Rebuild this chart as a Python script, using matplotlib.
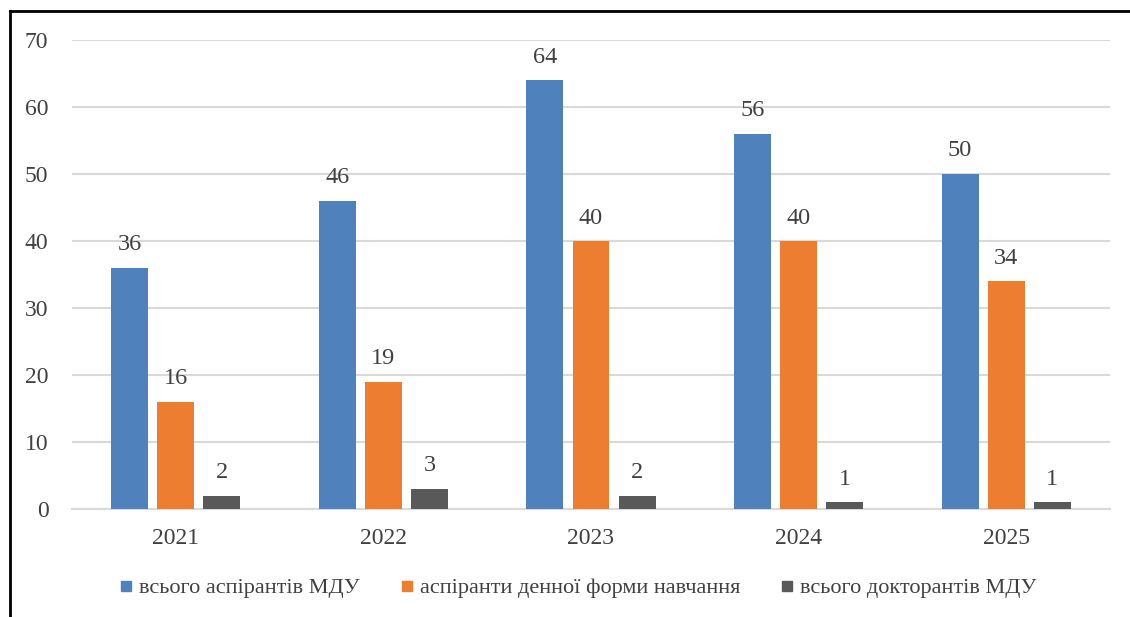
import numpy as np
import matplotlib.pyplot as plt
from matplotlib.lines import Line2D

# =========================
# DATA
# =========================
years = ["2021", "2022", "2023", "2024", "2025"]
all_phd = [36, 46, 64, 56, 50]
fulltime_phd = [16, 19, 40, 40, 34]
all_doct = [2, 3, 2, 1, 1]
series_names = [
    "всього аспірантів МДУ",
    "аспіранти денної форми навчання",
    "всього докторантів МДУ",
]
colors = ["#4F81BD", "#ED7D31", "#595959"]

plt.rcParams["font.family"] = ["Liberation Serif", "DejaVu Serif"]
TEXT = "#404040"

fig = plt.figure(figsize=(11.3, 6.17), dpi=100)
ax = fig.add_axes([72 / 1130, 1 - 509 / 617, 1038 / 1130, 469 / 617])

x = np.arange(len(years))
width = 0.178
offset = 0.222
for i, (vals, name, c) in enumerate(zip([all_phd, fulltime_phd, all_doct], series_names, colors)):
    bars = ax.bar(x + (i - 1) * offset, vals, width, color=c, label=name, zorder=3)
    for b, v in zip(bars, vals):
        ax.annotate(str(v), (b.get_x() + b.get_width() / 2, v), xytext=(0, 9),
                    textcoords="offset points", ha="center", va="bottom",
                    fontsize=17.5, color=TEXT)

ax.set_xlim(-0.5, len(years) - 0.5)
ax.set_ylim(0, 70)
ax.set_yticks(range(0, 71, 10))
ax.set_xticks(x)
ax.set_xticklabels(years)
ax.yaxis.grid(True, color="#D9D9D9", linewidth=1.5, zorder=0)
ax.tick_params(length=0, labelsize=17, labelcolor=TEXT)
ax.tick_params(axis="y", pad=17)
ax.tick_params(axis="x", pad=14)
for s in ["top", "right", "left"]:
    ax.spines[s].set_visible(False)
ax.spines["bottom"].set_color("#D9D9D9")
ax.spines["bottom"].set_linewidth(1.5)

handles = [Line2D([], [], marker="s", linestyle="", markersize=7.2, color=c) for c in colors]
fig.legend(handles, series_names, loc="center", bbox_to_anchor=(578 / 1130, 1 - 588 / 617),
           ncol=3, frameon=False, fontsize=16, labelcolor=TEXT,
           handletextpad=0.3, columnspacing=1.8, handlelength=0.6)

# outer frame (left and top only)
fig.add_artist(Line2D([10 / 1130, 10 / 1130], [0, 1 - 11 / 617], color="black", linewidth=2,
                      transform=fig.transFigure))
fig.add_artist(Line2D([10 / 1130, 1], [1 - 11 / 617, 1 - 11 / 617], color="black", linewidth=2,
                      transform=fig.transFigure))

plt.savefig("out.png", dpi=100)
plt.close()
